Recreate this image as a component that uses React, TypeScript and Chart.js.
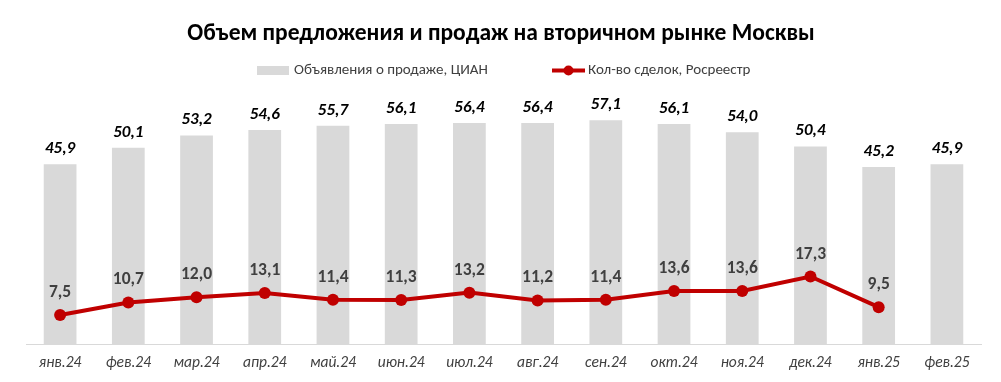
import React, { useEffect, useRef } from 'react';
import { Chart, registerables } from 'chart.js';

Chart.register(...registerables);

const titleText = 'Объем предложения и продаж на вторичном рынке Москвы';
const listingsLabel = 'Объявления о продаже, ЦИАН';
const dealsLabel = 'Кол-во сделок, Росреестр';

const categories = ['янв.24', 'фев.24', 'мар.24', 'апр.24', 'май.24', 'июн.24', 'июл.24', 'авг.24', 'сен.24', 'окт.24', 'ноя.24', 'дек.24', 'янв.25', 'фев.25'];
const listings = [45.9, 50.1, 53.2, 54.6, 55.7, 56.1, 56.4, 56.4, 57.1, 56.1, 54.0, 50.4, 45.2, 45.9];
const deals: (number | null)[] = [7.5, 10.7, 12.0, 13.1, 11.4, 11.3, 13.2, 11.2, 11.4, 13.6, 13.6, 17.3, 9.5, null];

const FONT = 'Carlito, Lato, sans-serif';
const BAR_COLOR = '#d9d9d9';
const LINE_COLOR = '#c00000';
const fmt = (v: number) => v.toFixed(1).replace('.', ',');

const decorPlugin = {
  id: 'decor',
  afterDraw(chart: any) {
    const ctx = chart.ctx as CanvasRenderingContext2D;
    ctx.save();
    // title
    ctx.fillStyle = '#000';
    ctx.font = `bold 23.5px ${FONT}`;
    ctx.textAlign = 'center';
    ctx.textBaseline = 'alphabetic';
    ctx.fillText(titleText, 501, 40);
    // legend
    const ly = 70.5;
    ctx.fillStyle = BAR_COLOR;
    ctx.fillRect(257, ly - 4.5, 32, 9);
    ctx.font = `15px ${FONT}`;
    ctx.fillStyle = '#404040';
    ctx.textAlign = 'left';
    ctx.textBaseline = 'middle';
    ctx.fillText(listingsLabel, 294, ly);
    ctx.strokeStyle = LINE_COLOR;
    ctx.lineWidth = 4;
    ctx.beginPath();
    ctx.moveTo(552, ly);
    ctx.lineTo(585, ly);
    ctx.stroke();
    ctx.fillStyle = LINE_COLOR;
    ctx.beginPath();
    ctx.arc(568.5, ly, 5, 0, Math.PI * 2);
    ctx.fill();
    ctx.fillStyle = '#404040';
    ctx.fillText(dealsLabel, 588, ly);
    ctx.restore();
  },
};

const labelsPlugin = {
  id: 'valueLabels',
  afterDatasetsDraw(chart: any) {
    const ctx = chart.ctx as CanvasRenderingContext2D;
    ctx.save();
    ctx.textAlign = 'center';
    ctx.textBaseline = 'alphabetic';
    const barMeta = chart.getDatasetMeta(0);
    ctx.font = `italic bold 17px ${FONT}`;
    ctx.fillStyle = '#000';
    barMeta.data.forEach((el: any, i: number) => {
      ctx.fillText(fmt(listings[i]), el.x, el.y - 11);
    });
    const lineMeta = chart.getDatasetMeta(1);
    ctx.font = `bold 17.5px ${FONT}`;
    ctx.fillStyle = '#404040';
    lineMeta.data.forEach((el: any, i: number) => {
      const v = deals[i];
      if (v == null) return;
      ctx.fillText(fmt(v), el.x, el.y - 18);
    });
    ctx.restore();
  },
};

export default function App() {
  const ref = useRef<HTMLCanvasElement | null>(null);
  useEffect(() => {
    document.body.style.margin = '0';
    if (!ref.current) return;
    const chart = new Chart(ref.current, {
      type: 'bar',
      data: {
        labels: categories,
        datasets: [
          {
            type: 'bar',
            label: listingsLabel,
            data: listings,
            backgroundColor: BAR_COLOR,
            barPercentage: 0.48,
            categoryPercentage: 1,
            order: 1,
          } as any,
          {
            type: 'line',
            label: dealsLabel,
            data: deals,
            borderColor: LINE_COLOR,
            backgroundColor: LINE_COLOR,
            borderWidth: 4,
            pointRadius: 6,
            pointBackgroundColor: LINE_COLOR,
            pointBorderWidth: 0,
            tension: 0,
            spanGaps: false,
            order: 0,
          } as any,
        ],
      },
      options: {
        animation: false,
        responsive: false,
        maintainAspectRatio: false,
        layout: { padding: { top: 95, left: 26, right: 20, bottom: 0 } },
        plugins: {
          legend: { display: false },
          title: { display: false },
          tooltip: { enabled: false },
        },
        scales: {
          x: {
            offset: true,
            grid: { display: false, drawTicks: false },
            border: { display: true, color: '#d9d9d9', width: 1 },
            ticks: {
              color: '#404040',
              font: { family: FONT, size: 15.5, style: 'italic', lineHeight: 1 },
              padding: 11,
              maxRotation: 0,
              autoSkip: false,
            },
          },
          y: {
            display: false,
            min: 0,
            max: 63.5,
          },
        },
      },
      plugins: [labelsPlugin, decorPlugin],
    });
    return () => chart.destroy();
  }, []);
  return (
    <div style={{ width: 1001, height: 382 }}>
      <canvas ref={ref} width={1001} height={382} style={{ display: 'block' }} />
    </div>
  );
}
